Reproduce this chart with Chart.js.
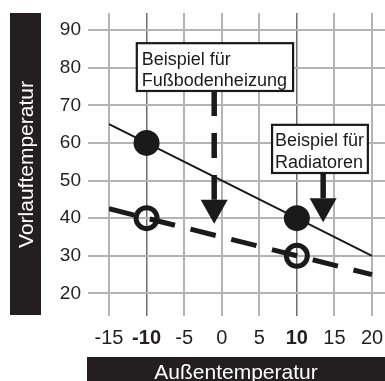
<!DOCTYPE html>
<html>
<head>
<meta charset="utf-8">
<script src="https://cdn.jsdelivr.net/npm/chart.js@4/dist/chart.umd.min.js"></script>
<style>
  html, body { margin: 0; padding: 0; background: #fff; }
  #wrap { width: 385px; height: 381px; }
</style>
</head>
<body>
<div id="wrap"><canvas id="chart" width="385" height="381"></canvas></div>
<script>
// Heating curves: flow temperature against outdoor temperature
const outdoorTemps = [-15, -10, 10, 20];
const radiatorFlow = [65, 60, 40, 30];      // steeper curve (radiators)
const floorFlow = [42.5, 40, 30, 25];       // flatter curve (underfloor heating)
const markedTemps = [-10, 10];              // design points drawn as circles
const xTicks = [-15, -10, -5, 0, 5, 10, 15, 20];
const yTicks = [20, 30, 40, 50, 60, 70, 80, 90];
const emphasisTicks = [-10, 10];
const xTitle = 'Außentemperatur';
const yTitle = 'Vorlauftemperatur';

// Callout boxes with arrows, placed in data units
const callouts = [
  { lines: ['Beispiel für', 'Fußbodenheizung'], xMin: -11.3, xMax: 9.5, yMax: 86.5, yMin: 73.8,
    arrowX: -1.0, headBase: 44.9, tip: 38.5, dashed: true, textPad: 5 },
  { lines: ['Beispiel für', 'Radiatoren'], xMin: 6.7, xMax: 19.45, yMax: 64.8, yMin: 52.0,
    arrowX: 13.5, headBase: 45.3, tip: 38.9, dashed: false, textPad: 3 }
];

const FONT = "'Liberation Sans', Arial, Helvetica, sans-serif";
const INK = '#1a1a1a';

const points = (ys) => outdoorTemps.map((x, i) => ({ x, y: ys[i] }));
const isMarked = (ctx) => ctx.raw && markedTemps.includes(ctx.raw.x);
const isEmph = (ctx) => ctx.tick && emphasisTicks.includes(ctx.tick.value);

const axisTitles = {
  id: 'axisTitles',
  afterDraw(chart) {
    const { ctx, chartArea } = chart;
    ctx.save();
    ctx.fillStyle = '#231f20';
    ctx.fillRect(10, chartArea.top, 31, chartArea.bottom - chartArea.top - 1);
    ctx.fillRect(87, 357, chart.width - 87, chart.height - 357);
    ctx.fillStyle = '#ffffff';
    ctx.font = '21px ' + FONT;
    ctx.textAlign = 'center';
    ctx.textBaseline = 'alphabetic';
    ctx.fillText(xTitle, 236, 379);
    ctx.translate(33, (chartArea.top + chartArea.bottom) / 2);
    ctx.rotate(-Math.PI / 2);
    ctx.fillText(yTitle, 0, 0);
    ctx.restore();
  }
};

const calloutPlugin = {
  id: 'callouts',
  afterDatasetsDraw(chart) {
    const { ctx, scales: { x, y } } = chart;
    ctx.save();
    callouts.forEach(c => {
      const l = x.getPixelForValue(c.xMin), r = x.getPixelForValue(c.xMax);
      const t = y.getPixelForValue(c.yMax), b = y.getPixelForValue(c.yMin);
      const ax = x.getPixelForValue(c.arrowX);
      const hb = y.getPixelForValue(c.headBase), tp = y.getPixelForValue(c.tip);
      // shaft
      ctx.strokeStyle = INK;
      ctx.lineWidth = 5.5;
      ctx.lineCap = 'butt';
      ctx.setLineDash(c.dashed ? [25, 17] : []);
      ctx.beginPath();
      ctx.moveTo(ax, b);
      ctx.lineTo(ax, hb);
      ctx.stroke();
      ctx.setLineDash([]);
      // head
      ctx.fillStyle = INK;
      ctx.beginPath();
      ctx.moveTo(ax - 13.5, hb);
      ctx.lineTo(ax + 13.5, hb);
      ctx.lineTo(ax, tp);
      ctx.closePath();
      ctx.fill();
      // box
      ctx.fillStyle = '#ffffff';
      ctx.fillRect(l, t, r - l, b - t);
      ctx.lineWidth = 2.2;
      ctx.strokeRect(l, t, r - l, b - t);
      ctx.fillStyle = INK;
      ctx.font = '18px ' + FONT;
      ctx.textAlign = 'left';
      ctx.textBaseline = 'alphabetic';
      c.lines.forEach((line, i) => ctx.fillText(line, l + c.textPad, t + 21.5 + i * 21.5));
    });
    ctx.restore();
  }
};

new Chart(document.getElementById('chart'), {
  type: 'line',
  data: {
    datasets: [
      {
        label: 'Radiatoren',
        data: points(radiatorFlow),
        borderColor: INK,
        borderWidth: 2,
        tension: 0,
        pointRadius: (ctx) => isMarked(ctx) ? 13 : 0,
        pointBackgroundColor: INK,
        pointBorderWidth: 0,
        pointHoverRadius: 0
      },
      {
        label: 'Fußbodenheizung',
        data: points(floorFlow),
        borderColor: INK,
        borderWidth: 5,
        borderDash: [26, 16],
        tension: 0,
        pointRadius: (ctx) => isMarked(ctx) ? 10.5 : 0,
        pointBackgroundColor: 'rgba(0,0,0,0)',
        pointBorderColor: INK,
        pointBorderWidth: 5,
        pointHoverRadius: 0
      }
    ]
  },
  options: {
    responsive: false,
    devicePixelRatio: 1,
    animation: false,
    events: [],
    layout: { padding: { top: 13, left: 0, right: 0, bottom: 0 } },
    plugins: { legend: { display: false }, tooltip: { enabled: false }, title: { display: false } },
    scales: {
      x: {
        type: 'linear',
        min: -15,
        max: 21.73,
        afterBuildTicks: (scale) => { scale.ticks = xTicks.map(v => ({ value: v })); },
        afterFit: (scale) => {
          scale.height = 65;
          scale.paddingLeft = 0;
          scale.paddingRight = 0;
        },
        border: { display: false },
        grid: {
          drawTicks: false,
          color: (ctx) => isEmph(ctx) ? '#6e6e6e' : '#b4b4b4',
          lineWidth: (ctx) => isEmph(ctx) ? 1.5 : 2
        },
        ticks: {
          padding: 10,
          color: '#231f20',
          maxRotation: 0,
          autoSkip: false,
          font: (ctx) => ({ family: FONT, size: 20, weight: isEmph(ctx) ? 'bold' : 'normal' }),
          callback: (v) => String(v)
        }
      },
      y: {
        type: 'linear',
        min: 14,
        max: 94.52,
        afterBuildTicks: (scale) => { scale.ticks = yTicks.map(v => ({ value: v })); },
        afterFit: (scale) => {
          scale.width = 109;
          scale.paddingTop = 0;
          scale.paddingBottom = 0;
        },
        border: { display: false },
        grid: {
          drawTicks: true,
          tickLength: 21,
          color: '#b4b4b4',
          lineWidth: 2
        },
        ticks: {
          padding: 7,
          color: '#231f20',
          autoSkip: false,
          font: { family: FONT, size: 19 },
          callback: (v) => String(v)
        }
      }
    }
  },
  plugins: [axisTitles, calloutPlugin]
});
</script>
</body>
</html>
